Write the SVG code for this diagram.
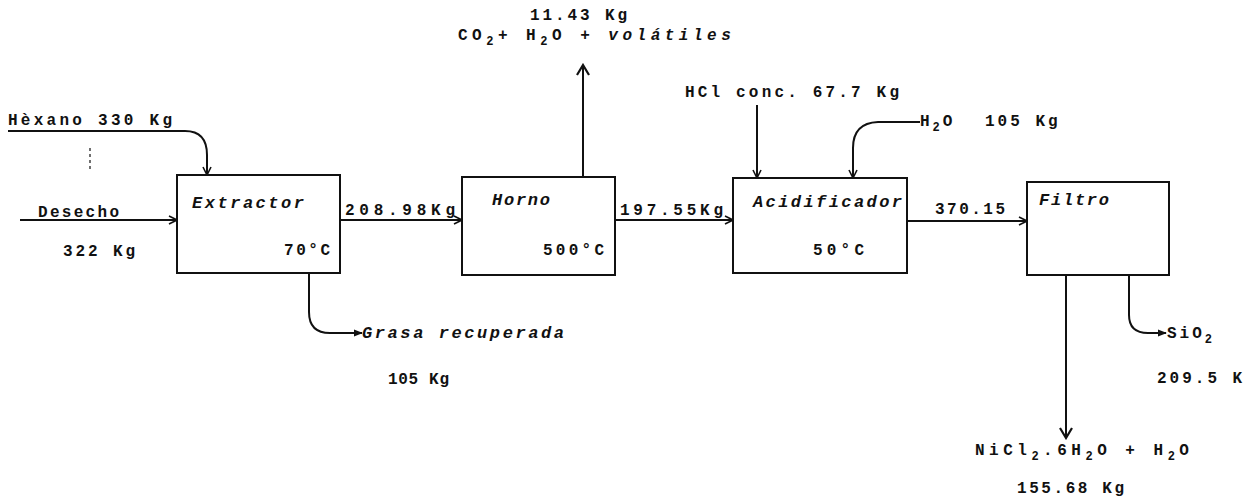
<svg xmlns="http://www.w3.org/2000/svg" width="1249" height="500" viewBox="0 0 1249 500">
<style>
.t{font-family:"Liberation Mono","DejaVu Sans Mono",monospace;font-size:17px;font-weight:bold;font-style:italic;fill:#111;letter-spacing:3px}
.n{font-family:"Liberation Mono","DejaVu Sans Mono",monospace;font-size:16px;font-weight:bold;fill:#111;letter-spacing:3px}
.w{letter-spacing:4.5px}
.box{fill:#fff;stroke:#111;stroke-width:2}
.c{fill:none;stroke:#111;stroke-width:2}
.s{font-size:12px}
</style>
<defs>
<marker id="a" viewBox="0 0 10 10" refX="9" refY="5" markerWidth="10" markerHeight="10" markerUnits="userSpaceOnUse" orient="auto"><path d="M1 1 L9 5 L1 9" fill="none" stroke="#111" stroke-width="1.6"/></marker>
<marker id="f" viewBox="0 0 10 10" refX="9" refY="5" markerWidth="9" markerHeight="9" markerUnits="userSpaceOnUse" orient="auto"><path d="M0 1 L10 5 L0 9 Z" fill="#111"/></marker>
<marker id="b" viewBox="0 0 14 14" refX="12" refY="7" markerWidth="14" markerHeight="14" markerUnits="userSpaceOnUse" orient="auto"><path d="M2 1 L12 7 L2 13" fill="none" stroke="#111" stroke-width="2.2"/></marker>
</defs>
<rect width="1249" height="500" fill="#fff"/>
<g id="connectors">
<path class="c" d="M8 131 H185 Q207 131 207 155 V175" marker-end="url(#a)"/>
<path d="M90 148 V170" stroke="#111" stroke-width="1.2" stroke-dasharray="3,3" fill="none"/>
<path class="c" d="M20 220 H177" marker-end="url(#a)"/>
<path class="c" d="M340 220 H462" marker-end="url(#a)"/>
<path class="c" d="M615 220 H733" marker-end="url(#a)"/>
<path class="c" d="M907 221 H1027" marker-end="url(#a)"/>
<path class="c" d="M583 177 V65" marker-end="url(#b)"/>
<path class="c" d="M757 105 V178" marker-end="url(#a)"/>
<path class="c" d="M920 122 H878 Q853 123 853 148 V178" marker-end="url(#a)"/>
<path class="c" d="M309 273 V312 Q309 333 330 333 H362" marker-end="url(#f)"/>
<path class="c" d="M1129 275 V315 Q1129 333 1148 333 H1166" marker-end="url(#f)"/>
<path class="c" d="M1066 275 V438" marker-end="url(#b)"/>
</g>
<g id="extractor">
<rect class="box" x="177" y="175" width="163" height="98"/>
<text class="t" x="192" y="208" textLength="115">Extractor</text>
<text class="n" x="284" y="255" textLength="49">70°C</text>
</g>
<g id="horno">
<rect class="box" x="462" y="177" width="153" height="98"/>
<text class="t" x="492" y="205" textLength="61">Horno</text>
<text class="n" x="543" y="255" textLength="64">500°C</text>
</g>
<g id="acidificador">
<rect class="box" x="733" y="178" width="174" height="95"/>
<text class="t" x="753" y="207" textLength="152">Acidificador</text>
<text class="n" x="813" y="255" textLength="54">50°C</text>
</g>
<g id="filtro">
<rect class="box" x="1027" y="182" width="142" height="93"/>
<text class="t" x="1039" y="205" textLength="73">Filtro</text>
</g>
<g id="labels">
<text class="n" x="8" y="125" textLength="167">Hèxano 330 Kg</text>
<text class="n" x="38" y="217" textLength="84">Desecho</text>
<text class="n" x="63" y="256" textLength="75">322 Kg</text>
<text class="n" x="345" y="215" textLength="113">208.98Kg</text>
<text class="n" x="530" y="20" textLength="100">11.43 Kg</text>
<text class="n w" x="458" y="40">CO<tspan class="s" dy="5">2</tspan><tspan dy="-5">+ H</tspan><tspan class="s" dy="5">2</tspan><tspan dy="-5">O + </tspan><tspan font-style="italic">volátiles</tspan></text>
<text class="n" x="620" y="215" textLength="106">197.55Kg</text>
<text class="n" x="685" y="97" textLength="217">HCl conc. 67.7 Kg</text>
<text class="n" x="920" y="126">H<tspan class="s" dy="5">2</tspan><tspan dy="-5">O</tspan><tspan x="985">105 Kg</tspan></text>
<text class="n" x="935" y="214" textLength="73">370.15</text>
<text class="t" x="362" y="338" textLength="205">Grasa recuperada</text>
<text class="n" x="388" y="384" textLength="64">105 Kg</text>
<text class="n" x="1167" y="338">SiO<tspan class="s" dy="5">2</tspan></text>
<text class="n" x="1157" y="383">209.5 K</text>
<text class="n w" x="975" y="455">NiCl<tspan class="s" dy="5">2</tspan><tspan dy="-5">.6H</tspan><tspan class="s" dy="5">2</tspan><tspan dy="-5">O + H</tspan><tspan class="s" dy="5">2</tspan><tspan dy="-5">O</tspan></text>
<text class="n" x="1017" y="493" textLength="110">155.68 Kg</text>
</g>
</svg>
